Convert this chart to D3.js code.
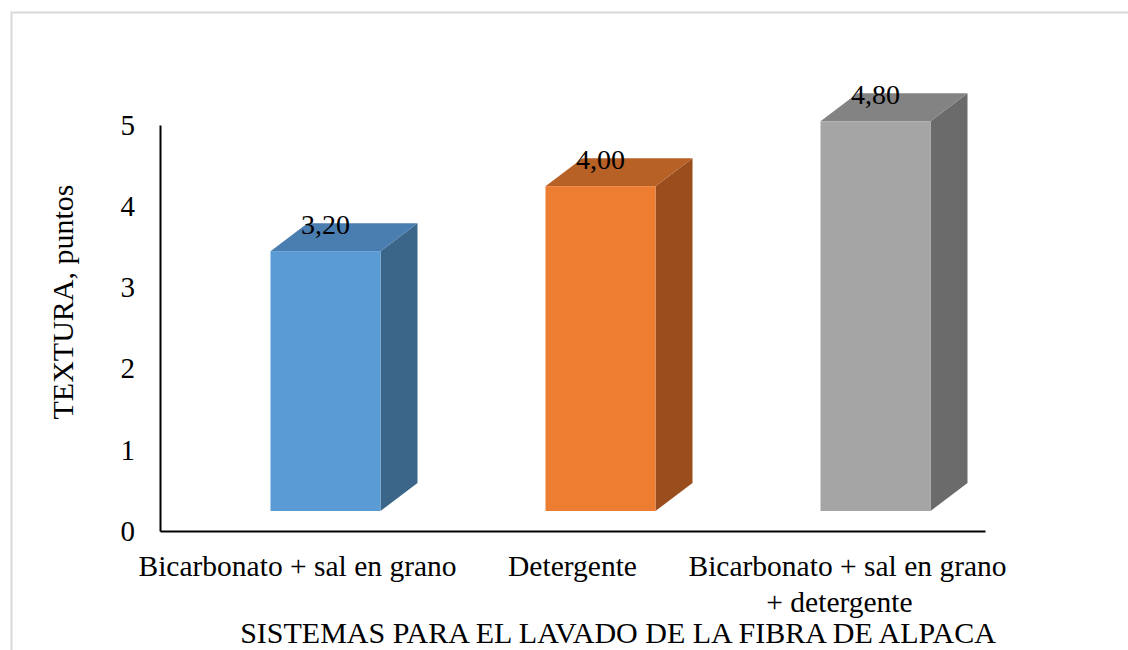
<!DOCTYPE html>
<html>
<head>
<meta charset="utf-8">
<script src="https://cdn.jsdelivr.net/npm/d3@7"></script>
<style>
  body { margin: 0; background: #fff; }
  text { font-family: "Times New Roman", "Liberation Serif", serif; fill: #000; }
</style>
</head>
<body>
<svg id="chart" width="1128" height="650"></svg>
<script>
const categories = [
    ['Bicarbonato + sal en grano'],
    ['Detergente'],
    ['Bicarbonato + sal en grano', '+ detergente']
];
const values = [3.2, 4.0, 4.8];
const valueLabels = ['3,20', '4,00', '4,80'];
const yTicks = [0, 1, 2, 3, 4, 5];
const colors = [
    { front: '#5b9bd5', top: '#4a7db0', side: '#3b6589' },
    { front: '#ed7d31', top: '#b86127', side: '#9a4e1e' },
    { front: '#a5a5a5', top: '#838383', side: '#6b6b6b' }
];

const DEPTH_X = 37;
const DEPTH_Y = -28;
const FLOOR = 20;
const BAR_W = 110;

const svg = d3.select('#chart');

// light chart frame
svg.append('rect')
    .attr('x', 11.5).attr('y', 12.5)
    .attr('width', 1130).attr('height', 650)
    .attr('fill', 'none')
    .attr('stroke', '#d9d9d9')
    .attr('stroke-width', 2);

const x = d3.scaleBand()
    .domain(d3.range(categories.length))
    .range([160, 985]);

const y = d3.scaleLinear()
    .domain([0, 5])
    .range([531, 125]);

// bars (front face + top + side)
const bars = svg.append('g').selectAll('g')
    .data(values)
    .join('g');

bars.each(function(v, i) {
    const g = d3.select(this);
    const cx = x(i) + x.bandwidth() / 2 + 28;
    const x0 = cx - BAR_W / 2;
    const x1 = cx + BAR_W / 2;
    const yb = y(0) - FLOOR;
    const yt = y(v) - FLOOR;
    g.append('path')
        .attr('d', `M${x1},${yt}L${x1 + DEPTH_X},${yt + DEPTH_Y}L${x1 + DEPTH_X},${yb + DEPTH_Y}L${x1},${yb}Z`)
        .attr('fill', colors[i].side);
    g.append('path')
        .attr('d', `M${x0},${yt}L${x0 + DEPTH_X},${yt + DEPTH_Y}L${x1 + DEPTH_X},${yt + DEPTH_Y}L${x1},${yt}Z`)
        .attr('fill', colors[i].top);
    g.append('rect')
        .attr('x', x0).attr('y', yt)
        .attr('width', BAR_W).attr('height', yb - yt)
        .attr('fill', colors[i].front);
    g.append('text')
        .attr('x', cx)
        .attr('y', yt - 17)
        .attr('text-anchor', 'middle')
        .style('font-size', '28px')
        .text(valueLabels[i]);
});

// axes
const yAxis = svg.append('g')
    .attr('transform', 'translate(160,0)')
    .call(d3.axisLeft(y).tickValues(yTicks).tickSize(0).tickPadding(25).tickFormat(d3.format('d')));
yAxis.select('.domain').attr('stroke', '#000').attr('stroke-width', 2);
yAxis.selectAll('text')
    .style('font-size', '29px')
    .style('font-family', '"Times New Roman", "Liberation Serif", serif');

const xAxis = svg.append('g')
    .attr('transform', 'translate(0,531)')
    .call(d3.axisBottom(x).tickSize(0).tickFormat(''));
xAxis.select('.domain').attr('stroke', '#000').attr('stroke-width', 2);

// category labels
svg.append('g').selectAll('text')
    .data(categories)
    .join('text')
    .attr('text-anchor', 'middle')
    .style('font-size', '29.5px')
    .attr('transform', (d, i) => `translate(${x(i) + x.bandwidth() / 2},576)`)
    .selectAll('tspan')
    .data(d => d)
    .join('tspan')
    .attr('x', (d, j) => j === 0 ? 0 : -8)
    .attr('dy', (d, j) => j === 0 ? 0 : 36)
    .text(d => d);

// axis titles
svg.append('text')
    .attr('transform', 'translate(73,302) rotate(-90)')
    .attr('text-anchor', 'middle')
    .style('font-size', '30px')
    .text('TEXTURA, puntos');

svg.append('text')
    .attr('x', 618)
    .attr('y', 643)
    .attr('text-anchor', 'middle')
    .style('font-size', '30px')
    .text('SISTEMAS PARA EL LAVADO DE LA FIBRA DE ALPACA');
</script>
</body>
</html>
